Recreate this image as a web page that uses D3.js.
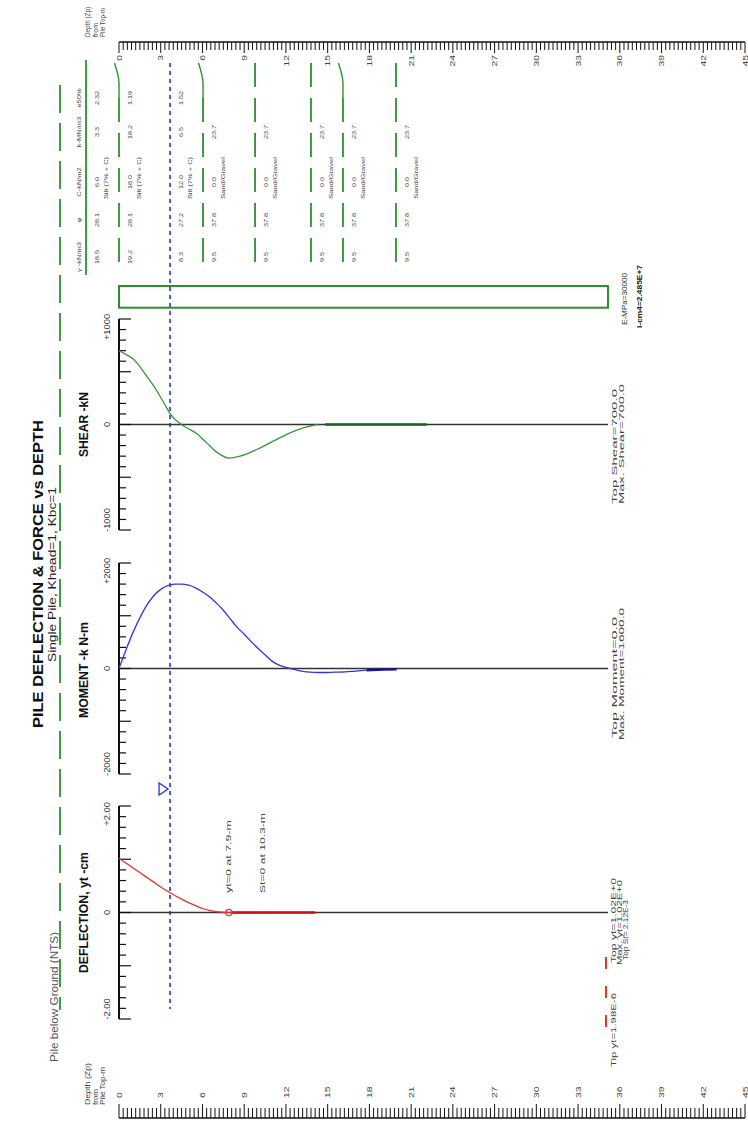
<!DOCTYPE html>
<html>
<head>
<meta charset="utf-8">
<script src="https://cdn.jsdelivr.net/npm/d3@7"></script>
<style>
body { margin: 0; background: #fff; }
svg { display: block; font-family: "Liberation Sans", Arial, sans-serif; }
</style>
</head>
<body>
<svg id="chart" width="748" height="1129"></svg>
<script>
// depth axis (m below pile top)
var depthLabels = [0, 3, 6, 9, 12, 15, 18, 21, 24, 27, 30, 33, 36, 39, 42, 45];
var pileLength = 35.15;
var waterDepth = 3.67;

// soil layers (top of each layer, m)
var layerTop = [-2.37, 0, 3.67, 6.04, 9.78, 13.8, 16.1, 19.91];
var gamma = [18.5, 19.2, 8.3, 9.5, 9.5, 9.5, 9.5, 9.5];
var phi = [28.1, 28.1, 27.2, 37.8, 37.8, 37.8, 37.8, 37.8];
var cohesion = [6.0, 18.0, 12.0, 0.0, 0.0, 0.0, 0.0, 0.0];
var soilType = ["Silt (7% + C)", "Silt (7% + C)", "Silt (7% + C)", "Sand/Gravel", "Sand/Gravel", "Sand/Gravel", "Sand/Gravel", "Sand/Gravel"];
var kValue = [3.3, 18.2, 6.5, 23.7, 23.7, 23.7, 23.7, 23.7];
var e50 = ["2.32", "1.19", "1.52", "", "", "", "", ""];
var curlLayers = [1, 3, 6];
var soilHeaders = ["\u03b3 -kN/m3", "\u03c6", "C-kN/m2", "k-MN/m3", "e50%"];

// deflection, cm
var defDepth = [0, 0.5, 1, 1.5, 2, 2.5, 3, 3.67, 4.5, 5, 5.5, 6, 6.5, 7, 7.5, 7.9, 8.5, 9.5, 10.3, 11];
var defValue = [1.02, 0.93, 0.84, 0.75, 0.66, 0.57, 0.48, 0.37, 0.25, 0.185, 0.13, 0.075, 0.04, 0.015, 0.005, 0, -0.004, -0.005, -0.003, 0];
var defTail = [8.1, 14.1];
var defZero = 7.9, slopeZero = 10.3;

// moment, kN-m
var momDepth = [0, 0.5, 1, 1.5, 2, 2.5, 3, 3.5, 4, 4.5, 5, 5.5, 6, 6.5, 7, 7.5, 8, 8.5, 9, 9.5, 10, 10.5, 11, 11.5, 12, 12.3, 13, 14, 14.7, 15.5, 16.25, 17, 17.8, 19, 19.96];
var momValue = [0, 350, 680, 960, 1200, 1380, 1500, 1570, 1598, 1600, 1580, 1530, 1450, 1360, 1240, 1105, 940, 780, 650, 510, 380, 260, 140, 65, 20, 0, -45, -72, -76, -70, -64, -48, -32, -18, -13];
var momTailFrom = 17.8;

// shear, kN
var shrDepth = [0, 0.55, 1.03, 1.51, 1.99, 2.47, 2.95, 3.43, 3.67, 4.39, 4.87, 5.58, 6.3, 7.02, 7.9, 8.7, 9.9, 11.09, 12.29, 13.49, 14.33];
var shrValue = [700, 660, 620, 547, 458, 370, 268, 158, 104, 9, -31, -85, -174, -262, -318, -300, -237, -158, -79, -22, 0];
var shrTail = [14.81, 22.12];

var svg = d3.select("#chart");
// whole chart is drawn upright and then turned a quarter left
var g = svg.append("g").attr("transform", "translate(0,1129) rotate(-90)");

var zScale = d3.scaleLinear().domain([0, 45]).range([119, 745]);
var green = "#2f8f2f";

function label(u, v, s, o) {
    o = o || {};
    var t = g.append("text")
        .attr("font-size", o.size || 8)
        .attr("fill", o.fill || "#333")
        .attr("text-anchor", o.anchor || "start")
        .text(s);
    if (o.bold) t.attr("font-weight", "bold");
    if (o.mid) t.attr("dominant-baseline", "central");
    if (o.len) {
        t.attr("x", u).attr("y", v)
            .attr("textLength", o.len)
            .attr("lengthAdjust", "spacingAndGlyphs");
    } else {
        t.attr("transform", "translate(" + u + "," + v + ") scale(" + (o.sx || 1.2) + ",1)");
    }
    return t;
}

// ---- depth axes
var minor = d3.range(0, 151).map(function (i) { return i * 0.3; });
function depthAxis(u0, dir, tMin, tMaj, labU, anchor) {
    g.append("line").attr("x1", u0).attr("x2", u0)
        .attr("y1", zScale(0)).attr("y2", zScale(45))
        .attr("stroke", "#111").attr("stroke-width", 1.5);
    g.selectAll(null).data(minor).enter().append("line")
        .attr("x1", u0)
        .attr("x2", function (d, i) { return u0 + dir * (i % 10 == 0 ? tMaj : tMin); })
        .attr("y1", function (d) { return zScale(d); })
        .attr("y2", function (d) { return zScale(d); })
        .attr("stroke", "#111").attr("stroke-width", 1);
    depthLabels.forEach(function (d) {
        label(labU, zScale(d), String(d), {size: 8, anchor: anchor, mid: true, sx: 1.3, fill: "#444"});
    });
}
depthAxis(1087, -1, 8, 11, 1074, "end");
depthAxis(11, 1, 10, 14, 31, "start");

// axis titles: top copy squeezed so it stays inside the page
label(1092, 90, "Depth (Zp)", {size: 8, fill: "#444", len: 30});
label(1092, 97.5, "from", {size: 8, fill: "#444", len: 14});
label(1092, 105, "Pile Top-m", {size: 8, fill: "#444", len: 29});
label(24, 90, "Depth (Zp)", {size: 8, fill: "#444", len: 42});
label(24, 97.5, "from", {size: 8, fill: "#444", len: 16});
label(24, 105, "Pile Top-m", {size: 8, fill: "#444", len: 38});

// ---- titles
label(401, 43, "PILE DEFLECTION & FORCE vs DEPTH", {size: 15, bold: true, fill: "#111", len: 308});
label(467, 56, "Single Pile, Khead=1, Kbc=1", {size: 10.5, fill: "#222", len: 175});
label(67, 58, "Pile below Ground (NTS)", {size: 10, fill: "#555", len: 130});

// ---- ground, water table, pile
g.append("line").attr("x1", 1044).attr("x2", 119).attr("y1", 60).attr("y2", 60)
    .attr("stroke", green).attr("stroke-width", 1.8).attr("stroke-dasharray", "28,10");
var wv = zScale(waterDepth);
g.append("line").attr("x1", 1066).attr("x2", 120).attr("y1", wv).attr("y2", wv)
    .attr("stroke", "#2233ee").attr("stroke-width", 1.6).attr("stroke-dasharray", "4,4");
g.append("path")
    .attr("d", "M334," + (wv - 11) + "L346," + (wv - 11) + "L340," + (wv - 2) + "Z")
    .attr("fill", "none").attr("stroke", "#2233ee").attr("stroke-width", 1.3);

g.append("rect")
    .attr("x", 821.3).attr("width", 21.7)
    .attr("y", zScale(0)).attr("height", zScale(pileLength) - zScale(0))
    .attr("fill", "none").attr("stroke", green).attr("stroke-width", 2);
label(804, 627, "E-MPa=30000", {size: 6.5, fill: "#223322", len: 52});
label(801, 642, "I-cm4=2.485E+7", {size: 6.5, bold: true, fill: "#112211", len: 63});

// ---- soil layers
var colU = [872, 909, 947, 997, 1031];
soilHeaders.forEach(function (h, i) {
    label(colU[i], 81, h, {size: 6, anchor: "middle", sx: 1.25, fill: "#444"});
});
layerTop.forEach(function (d, i) {
    var v = zScale(d);
    var curl = curlLayers.indexOf(i) >= 0;
    if (i == 0) {
        g.append("line").attr("x1", 1069).attr("x2", 854).attr("y1", v).attr("y2", v)
            .attr("stroke", green).attr("stroke-width", 1.8);
    } else if (i != 2) {
        g.append("line").attr("x1", curl ? 1031 : 1066).attr("x2", 856).attr("y1", v).attr("y2", v)
            .attr("stroke", green).attr("stroke-width", 1.8).attr("stroke-dasharray", "24,11");
    }
    if (curl) {
        g.append("path")
            .attr("d", "M1066," + (v - 4.5) + "Q1052," + v + " 1046," + v + "L1031," + v)
            .attr("fill", "none").attr("stroke", green).attr("stroke-width", 1.4);
    }
    var vals = [gamma[i].toFixed(1), phi[i].toFixed(1), cohesion[i].toFixed(1), kValue[i].toFixed(1), e50[i]];
    vals.forEach(function (s, j) {
        if (s) label(colU[j], v + 13, s, {size: 6, anchor: "middle", sx: 1.2, fill: "#444"});
    });
    label(951, v + 22, soilType[i], {size: 6, anchor: "middle", sx: 1.25, fill: "#444"});
});

// ---- result panels
var panels = [
    {title: "DEFLECTION, yt -cm", tU: 156, tLen: 121, dom: [-2, 2], rng: [110, 323], step: 0.2,
     lab: ["-2.00", "0", "+2.00"], depth: defDepth, val: defValue, color: "#e53333", tailColor: "#cc1111"},
    {title: "MOMENT -k N-m", tU: 411, tLen: 96, dom: [-2000, 2000], rng: [355, 566], step: 200,
     lab: ["-2000", "0", "+2000"], depth: momDepth, val: momValue, color: "#3434e0", tailColor: "#16168a"},
    {title: "SHEAR -kN", tU: 672, tLen: 65, dom: [-1000, 1000], rng: [599, 810], step: 100,
     lab: ["-1000", "0", "+1000"], depth: shrDepth, val: shrValue, color: "#3a963a", tailColor: "#1a661a"}
];

panels.forEach(function (p) {
    var x = d3.scaleLinear().domain(p.dom).range(p.rng);
    var z0 = x(0);
    label(p.tU, 88, p.title, {size: 12, bold: true, fill: "#111", len: p.tLen});

    g.append("line").attr("x1", z0).attr("x2", z0)
        .attr("y1", zScale(0)).attr("y2", zScale(pileLength))
        .attr("stroke", "#333").attr("stroke-width", 1.6);

    g.append("line").attr("x1", p.rng[0]).attr("x2", p.rng[1])
        .attr("y1", 119).attr("y2", 119)
        .attr("stroke", "#111").attr("stroke-width", 2);
    g.selectAll(null).data(d3.range(-10, 11)).enter().append("line")
        .attr("x1", function (i) { return x(i * p.step); })
        .attr("x2", function (i) { return x(i * p.step); })
        .attr("y1", 119)
        .attr("y2", function (i) { return i % 5 == 0 ? 131 : 126; })
        .attr("stroke", "#111").attr("stroke-width", 1.2);

    label(x(p.dom[0]) + 10, 107.5, p.lab[0], {size: 8.5, anchor: "middle", mid: true, sx: 1.1});
    label(z0, 107.5, p.lab[1], {size: 8.5, anchor: "middle", mid: true, sx: 1.1});
    label(x(p.dom[1]) - 8, 107.5, p.lab[2], {size: 8.5, anchor: "middle", mid: true, sx: 1.1});

    var pts = p.depth.map(function (d, i) { return [p.val[i], d]; });
    var line = d3.line()
        .x(function (d) { return x(d[0]); })
        .y(function (d) { return zScale(d[1]); })
        .curve(d3.curveMonotoneY);
    g.append("path").attr("d", line(pts))
        .attr("fill", "none").attr("stroke", p.color).attr("stroke-width", 1.3);
    p.x = x;
});

// thick tails where values are near zero
function tail(p, d0, d1) {
    g.append("line").attr("x1", p.x(0)).attr("x2", p.x(0))
        .attr("y1", zScale(d0)).attr("y2", zScale(d1))
        .attr("stroke", p.tailColor).attr("stroke-width", 2.6);
}
tail(panels[0], defTail[0], defTail[1]);
tail(panels[2], shrTail[0], shrTail[1]);
var mp = panels[1];
var momTail = momDepth.map(function (d, i) { return [momValue[i], d]; })
    .filter(function (d) { return d[1] >= momTailFrom; });
g.append("path")
    .attr("d", d3.line().x(function (d) { return mp.x(d[0]); }).y(function (d) { return zScale(d[1]); })(momTail))
    .attr("fill", "none").attr("stroke", mp.tailColor).attr("stroke-width", 2.6);

// deflection notes
var dp = panels[0];
g.append("circle").attr("cx", dp.x(0)).attr("cy", zScale(defZero)).attr("r", 3.2)
    .attr("fill", "none").attr("stroke", "#e53333").attr("stroke-width", 1.2);
label(236, zScale(defZero) + 2.5, "yt=0 at " + defZero + "-m", {size: 8, fill: "#444", len: 73});
label(236, zScale(slopeZero) + 2.5, "St=0 at " + slopeZero + "-m", {size: 8, fill: "#444", len: 80});

// summary notes near the pile tip
label(166, 615.5, "Top yt=1.02E+0", {size: 6.5, fill: "#444", len: 85});
label(164, 621.5, "Max. yt=1.02E+0", {size: 6.5, fill: "#444", len: 85});
label(169, 627.5, "Top St= 2.12E-3", {size: 6.5, fill: "#444", len: 60});
label(62, 616, "Tip yt=1.98E-6", {size: 6.5, fill: "#444", len: 74});
g.append("line").attr("x1", 102).attr("x2", 179).attr("y1", 606).attr("y2", 606)
    .attr("stroke", "#e53333").attr("stroke-width", 2).attr("stroke-dasharray", "12,17");

label(391, 616.5, "Top Moment=0.0", {size: 7, fill: "#444", len: 121});
label(389, 623.5, "Max. Moment=1600.0", {size: 7, fill: "#444", len: 132});
label(625, 616.5, "Top Shear=700.0", {size: 7, fill: "#444", len: 115});
label(625, 623.5, "Max. Shear=700.0", {size: 7, fill: "#444", len: 120});
</script>
</body>
</html>
